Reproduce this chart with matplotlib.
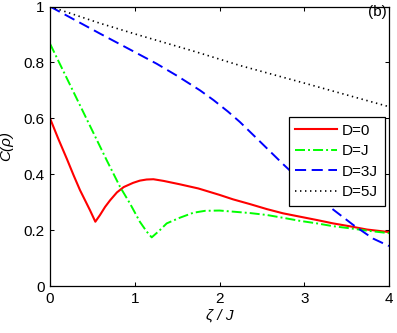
import matplotlib
matplotlib.use("Agg")
import matplotlib.pyplot as plt

plt.rcParams['font.family'] = ['Liberation Sans', 'DejaVu Sans']
plt.rcParams['lines.scale_dashes'] = False

# D=0
x_d0 = [0.0, 0.1, 0.2, 0.28, 0.354, 0.413, 0.472, 0.535, 0.59, 0.65, 0.71, 0.79, 0.87,
        0.98, 1.06, 1.14, 1.22, 1.34, 1.53, 1.75, 2.0, 2.16, 2.36, 2.56, 2.75, 2.95,
        3.15, 3.34, 3.55, 3.74, 4.0]
y_d0 = [0.60, 0.525, 0.454, 0.395, 0.343, 0.307, 0.271, 0.230, 0.254, 0.283, 0.307,
        0.335, 0.354, 0.369, 0.377, 0.381, 0.382, 0.376, 0.364, 0.349, 0.326, 0.310,
        0.293, 0.275, 0.260, 0.248, 0.236, 0.224, 0.213, 0.202, 0.193]

# D=J
x_dj = [0.0, 0.3, 0.669, 0.826, 0.944, 1.06, 1.14, 1.20, 1.29, 1.377, 1.53, 1.69,
        1.83, 2.0, 2.16, 2.36, 2.56, 2.75, 2.95, 3.15, 3.34, 3.55, 3.74, 4.0]
y_dj = [0.867, 0.68, 0.45, 0.355, 0.295, 0.230, 0.195, 0.174, 0.198, 0.224, 0.244,
        0.262, 0.269, 0.270, 0.266, 0.261, 0.254, 0.244, 0.233, 0.224, 0.214, 0.206,
        0.198, 0.189]

# D=3J
x_d3 = [0.0, 0.59, 1.0, 1.26, 1.5, 1.77, 1.93, 2.1, 2.24, 2.44, 2.75, 3.0, 3.3,
        3.58, 3.81, 4.0]
y_d3 = [1.0, 0.903, 0.837, 0.795, 0.752, 0.700, 0.665, 0.624, 0.587, 0.528, 0.436,
        0.365, 0.283, 0.218, 0.170, 0.143]

# D=5J
x_d5 = [0.0, 0.59, 1.0, 1.73, 2.24, 3.0, 3.97, 4.0]
y_d5 = [1.0, 0.94, 0.902, 0.837, 0.789, 0.726, 0.644, 0.641]

labels = ['D=0', 'D=J', 'D=3J', 'D=5J']
xticks = [0, 1, 2, 3, 4]
yticks = [0, 0.2, 0.4, 0.6, 0.8, 1.0]
yticklabels = ['0', '0.2', '0.4', '0.6', '0.8', '1']

fig = plt.figure(figsize=(3.97, 3.33), dpi=100)
ax = fig.add_axes([50/397, 1-286/333, 339/397, 279.5/333])

ax.plot(x_d0, y_d0, color='#ff0000', lw=1.5, label=labels[0])
ax.plot(x_dj, y_dj, color='#00ff00', lw=1.4, dashes=(7.2, 2.2, 1.4, 2.2), label=labels[1])
ax.plot(x_d3, y_d3, color='#0000ff', lw=1.4, dashes=(8, 4), label=labels[2])
ax.plot(x_d5, y_d5, color='black', lw=1.2, dashes=(1.0, 2.6), label=labels[3])

ax.set_xlim(0, 4)
ax.set_ylim(0, 1)
ax.set_xticks(xticks)
ax.set_xticklabels([str(t) for t in xticks])
ax.set_yticks(yticks)
ax.set_yticklabels(yticklabels)
ax.tick_params(direction='in', top=True, right=True, length=3, width=0.75,
               labelsize=11, pad=4)
for s in ax.spines.values():
    s.set_linewidth(0.9)

ax.set_xlabel('ζ / J', fontsize=11, style='italic', labelpad=2)
ax.set_ylabel('C(ρ)', fontsize=11, style='italic', labelpad=7)

ax.text(0.994, 0.982, '(b)', transform=ax.transAxes, ha='right', va='center',
        fontsize=11, color='black')

leg = ax.legend(loc='upper right', bbox_to_anchor=(0.988, 0.605), borderaxespad=0,
                fontsize=11, fancybox=False, framealpha=1, edgecolor='black',
                handlelength=2.7, handletextpad=0.35, labelspacing=0.42,
                borderpad=0.45)
leg.get_frame().set_linewidth(0.9)

fig.savefig('out.png', dpi=100)
